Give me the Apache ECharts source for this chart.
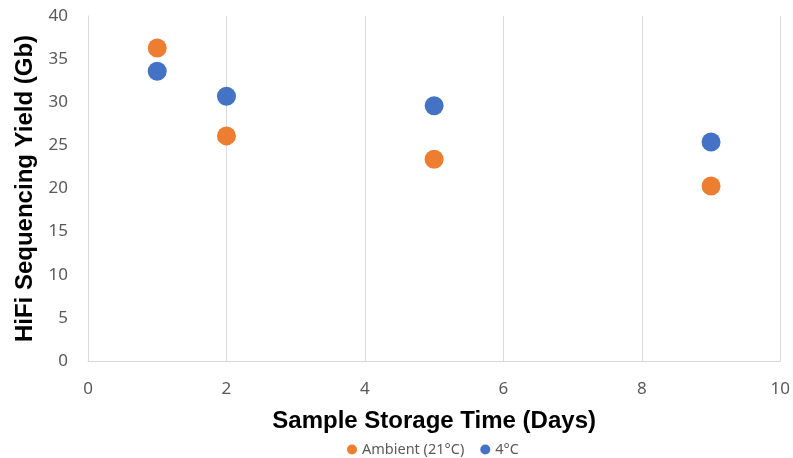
<!DOCTYPE html>
<html>
<head>
<meta charset="utf-8">
<script src="https://cdn.jsdelivr.net/npm/echarts@6/dist/echarts.min.js"></script>
<style>html,body{margin:0;padding:0;background:#fff;}#c{width:793px;height:458px;}</style>
</head>
<body>
<div id="c"></div>
<script>
const seriesNames = ['Ambient (21°C)', '4°C'];
const daysAmbient = [1, 2, 5, 9];
const yieldAmbient = [36.3, 26.1, 23.4, 20.3];
const days4C = [1, 2, 5, 9];
const yield4C = [33.6, 30.7, 29.6, 25.4];
const xTitle = 'Sample Storage Time (Days)';
const yTitle = 'HiFi Sequencing Yield (Gb)';

const chart = echarts.init(document.getElementById('c'), null, {renderer: 'canvas'});
const tickFont = {color: '#595959', fontSize: 17, fontFamily: 'Noto Sans'};
chart.setOption({
  animation: false,
  color: ['#ED7D31', '#4472C4'],
  grid: {left: 88, right: 12, top: 16, bottom: 97},
  legend: {
    top: 437, left: 342, itemWidth: 10, itemHeight: 10, itemGap: 16,
    icon: 'circle',
    textStyle: {color: '#595959', fontSize: 14.5, fontFamily: 'Noto Sans'},
    data: seriesNames
  },
  xAxis: {
    type: 'value', min: 0, max: 10, interval: 2,
    name: xTitle, nameLocation: 'middle', nameGap: 48,
    nameTextStyle: {color: '#000', fontSize: 24, fontWeight: 'bold', fontFamily: 'Liberation Sans'},
    axisLine: {show: true, lineStyle: {color: '#D9D9D9', width: 1}},
    axisTick: {show: false},
    axisLabel: Object.assign({margin: 20}, tickFont),
    splitLine: {show: true, lineStyle: {color: '#D9D9D9', width: 1}}
  },
  yAxis: {
    type: 'value', min: 0, max: 40, interval: 5,
    name: yTitle, nameLocation: 'middle', nameGap: 50,
    nameTextStyle: {color: '#000', fontSize: 24, fontWeight: 'bold', fontFamily: 'Liberation Sans'},
    axisLine: {show: true, lineStyle: {color: '#D9D9D9', width: 1}},
    axisTick: {show: false},
    axisLabel: Object.assign({margin: 20}, tickFont),
    splitLine: {show: false}
  },
  series: [
    {name: seriesNames[0], type: 'scatter', symbolSize: 19, itemStyle: {opacity: 1},
     data: daysAmbient.map((d, i) => [d, yieldAmbient[i]])},
    {name: seriesNames[1], type: 'scatter', symbolSize: 19, itemStyle: {opacity: 1},
     data: days4C.map((d, i) => [d, yield4C[i]])}
  ]
});
</script>
</body>
</html>
